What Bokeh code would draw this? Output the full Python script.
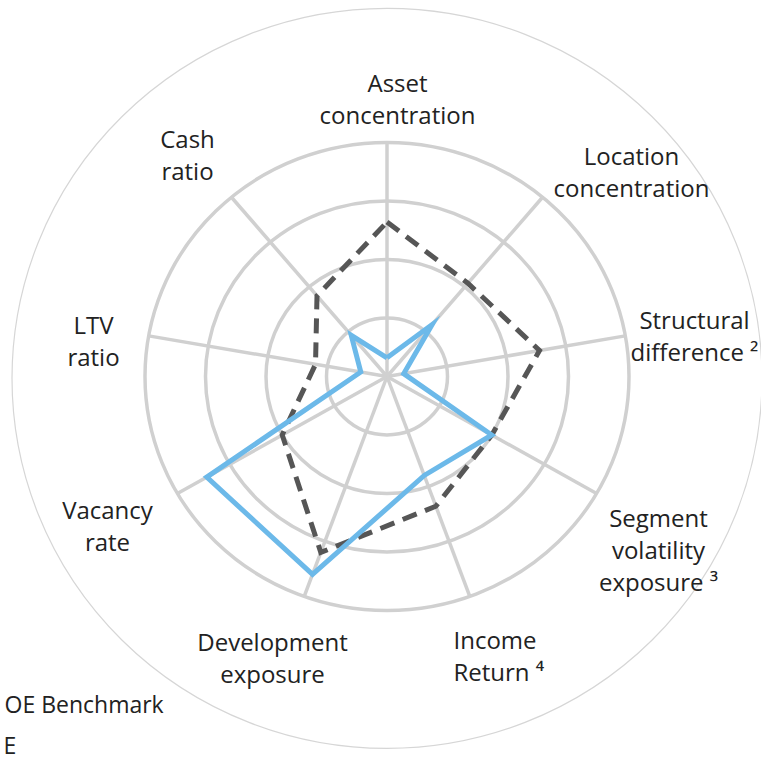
import numpy as np
from bokeh.plotting import figure
from bokeh.models import Range1d, ColumnDataSource
from bokeh.core.properties import value
from bokeh.embed import file_html
from bokeh.resources import INLINE

# ---------------- data ----------------
categories = [
    "Asset\nconcentration",
    "Location\nconcentration",
    "Structural\ndifference \u00b2",
    "Segment\nvolatility\nexposure \u00b3",
    "Income\nReturn \u2074",
    "Development\nexposure",
    "Vacancy\nrate",
    "LTV\nratio",
    "Cash\nratio",
]
benchmark = [66, 52, 64, 50, 59, 80, 50, 30, 45]
portfolio = [8, 29, 7, 50, 45, 90, 86, 11, 23]
ring_levels = [25, 50, 75, 100]
legend_labels = ["OE Benchmark", "E"]

# ---------------- layout ----------------
W, H = 761, 764
SX, SY = 2.42, 2.34          # px per unit horizontally / vertically
CX, CY = 386.5, 376          # centre in figure pixels

def to_data(sx, sy):
    return (sx - CX) / SX, (CY - sy) / SY

p = figure(width=W, height=H, output_backend="svg", toolbar_location=None,
           x_range=Range1d(-CX / SX, (W - CX) / SX),
           y_range=Range1d(-(H - CY) / SY, CY / SY),
           min_border=0)
p.axis.visible = False
p.grid.visible = False
p.outline_line_color = None
p.background_fill_color = "white"

n = len(categories)
ang = np.deg2rad(90 - 40 * np.arange(n))

# outer thin circle
p.ellipse(x=0, y=-0.8, width=2 * 375 / SX, height=2 * 370 / SY,
          fill_color=None, line_color="#d6d6d6", line_width=1.2)

# grid rings
p.ellipse(x=[0] * len(ring_levels), y=[0] * len(ring_levels),
          width=[2 * r for r in ring_levels], height=[2 * r for r in ring_levels],
          fill_color=None, line_color="#d0d0d0", line_width=3.5)

# spokes
rmax = max(ring_levels)
p.segment(x0=[0] * n, y0=[0] * n, x1=list(rmax * np.cos(ang)), y1=list(rmax * np.sin(ang)),
          line_color="#d0d0d0", line_width=3.5)

def closed_xy(vals):
    v = np.array(vals, dtype=float)
    x = v * np.cos(ang)
    y = v * np.sin(ang)
    return list(np.append(x, x[0])), list(np.append(y, y[0]))

bx, by = closed_xy(benchmark)
p.line(bx, by, line_color="#565656", line_width=5, line_dash="15 9", line_join="miter")

px_, py_ = closed_xy(portfolio)
p.line(px_, py_, line_color="#6cb9e9", line_width=5, line_join="miter")

# category labels (screen anchor positions)
label_pos = [(397, 98, "center"), (631, 171, "center"), (694, 335, "center"),
             (658, 549, "center"), (453, 655, "left"), (272, 657, "center"),
             (107, 525, "center"), (93, 340, "center"), (187, 154, "center")]
lx, ly, la = [], [], []
for (sx, sy, al) in label_pos:
    x, y = to_data(sx, sy)
    lx.append(x); ly.append(y); la.append(al)
src = ColumnDataSource(dict(x=lx, y=ly, t=categories, a=la))
p.text(x="x", y="y", text="t", text_align="a", source=src,
       text_baseline="middle", text_font=value("Open Sans"),
       text_font_size="24px", text_color="#222222", text_line_height=0.96)

# legend texts
leg_pos = [(4, 703), (3, 744)]
for t, (sx, sy) in zip(legend_labels, leg_pos):
    x, y = to_data(sx, sy)
    p.text(x=[x], y=[y], text=[t], text_align="left", text_baseline="middle",
           text_font=value("Open Sans"), text_font_size="23px", text_color="#222222")

open("out.html", "w").write(file_html(p, INLINE))
